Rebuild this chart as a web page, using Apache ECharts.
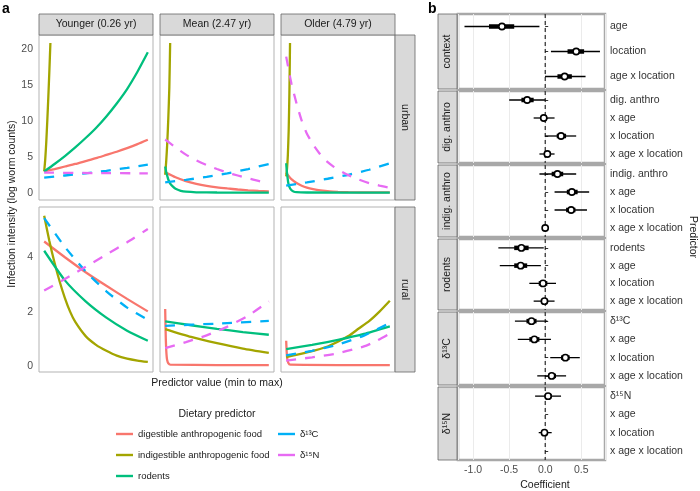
<!DOCTYPE html>
<html>
<head>
<meta charset="utf-8">
<title>Infection intensity and dietary predictors</title>
<script src="https://cdn.jsdelivr.net/npm/echarts@6/dist/echarts.min.js"></script>
<style>
  html, body { margin: 0; padding: 0; background: #fff; }
  #chart { width: 700px; height: 491px; }
</style>
</head>
<body>
<div id="chart"></div>
<script>
// ------------------------------
// Data
// ------------------------------
var predictors = ['digestible anthropogenic food', 'indigestible anthropogenic food', 'rodents', 'δ¹³C', 'δ¹⁵N'];
var ageGroups = ['Younger (0.26 yr)', 'Mean (2.47 yr)', 'Older (4.79 yr)'];
var locations = ['urban', 'rural'];
var urbanTicks = [0, 5, 10, 15, 20];
var ruralTicks = [0, 2, 4];
var coefTicks = [-1.0, -0.5, 0.0, 0.5];

// panel a: predicted curves [x (0 = min, 1 = max), log worm counts], order = predictors
var urbanYounger = [
    [[0, 2.96], [0.1, 3.3], [0.2, 3.65], [0.3, 4.0], [0.4, 4.4], [0.5, 4.8], [0.6, 5.25], [0.7, 5.7], [0.8, 6.2], [0.9, 6.75], [1, 7.36]],
    [[0, 2.96], [0.01, 4.6], [0.02, 7.0], [0.03, 10.0], [0.04, 13.3], [0.05, 16.9], [0.06, 20.8]],
    [[0, 2.96], [0.1, 4.0], [0.2, 5.1], [0.3, 6.3], [0.4, 7.6], [0.5, 9.0], [0.6, 10.6], [0.7, 12.4], [0.8, 14.4], [0.9, 16.8], [1, 19.5]],
    [[0, 2.1], [0.2, 2.4], [0.4, 2.7], [0.6, 3.05], [0.8, 3.45], [1, 3.9]],
    [[0, 2.8], [0.5, 2.74], [1, 2.7]]
];
var urbanMean = [
    [[0, 2.85], [0.1, 2.15], [0.2, 1.62], [0.3, 1.25], [0.4, 0.97], [0.5, 0.76], [0.6, 0.6], [0.7, 0.46], [0.8, 0.35], [0.9, 0.26], [1, 0.18]],
    [[0, 2.5], [0.01, 4.4], [0.02, 6.9], [0.03, 10.3], [0.04, 14.6], [0.048, 20.8]],
    [[0, 3.65], [0.01, 2.9], [0.02, 2.35], [0.03, 1.85], [0.05, 1.25], [0.075, 0.85], [0.1, 0.55], [0.15, 0.28], [0.2, 0.15], [0.3, 0.07], [0.5, 0.04], [1, 0.03]],
    [[0, 1.45], [0.2, 1.8], [0.4, 2.2], [0.6, 2.7], [0.8, 3.3], [1, 4.0]],
    [[0, 7.4], [0.1, 6.3], [0.2, 5.3], [0.3, 4.5], [0.4, 3.85], [0.5, 3.3], [0.6, 2.8], [0.7, 2.4], [0.8, 2.0], [0.9, 1.65], [1, 1.3]]
];
var urbanOlder = [
    [[0, 2.8], [0.025, 2.3], [0.05, 1.9], [0.1, 1.35], [0.15, 0.98], [0.2, 0.72], [0.26, 0.51], [0.33, 0.33], [0.42, 0.18], [0.5, 0.12], [0.6, 0.08], [0.8, 0.06], [1, 0.05]],
    [[0, 2.27], [0.008, 3.3], [0.016, 5.2], [0.024, 8.6], [0.031, 13.8], [0.037, 20.8]],
    [[0, 4.1], [0.005, 3.2], [0.01, 2.5], [0.02, 1.4], [0.03, 0.85], [0.045, 0.45], [0.07, 0.18], [0.1, 0.08], [0.2, 0.04], [1, 0.03]],
    [[0, 1.0], [0.2, 1.45], [0.4, 1.95], [0.6, 2.5], [0.8, 3.2], [1, 4.1]],
    [[0, 18.9], [0.05, 15.2], [0.1, 12.4], [0.15, 10.0], [0.2, 8.2], [0.26, 6.7], [0.32, 5.5], [0.38, 4.5], [0.45, 3.7], [0.51, 3.15], [0.6, 2.45], [0.7, 1.85], [0.8, 1.35], [0.9, 1.0], [1, 0.7]]
];
var ruralYounger = [
    [[0, 4.58], [0.2, 4.0], [0.4, 3.45], [0.6, 2.95], [0.8, 2.47], [1, 2.01]],
    [[0, 5.53], [0.05, 4.6], [0.1, 3.8], [0.15, 3.1], [0.2, 2.5], [0.25, 2.0], [0.3, 1.62], [0.4, 1.1], [0.5, 0.78], [0.6, 0.56], [0.7, 0.38], [0.8, 0.27], [0.9, 0.2], [1, 0.15]],
    [[0, 4.24], [0.2, 3.15], [0.4, 2.38], [0.6, 1.78], [0.8, 1.3], [1, 0.93]],
    [[0, 5.44], [0.2, 4.38], [0.4, 3.48], [0.6, 2.75], [0.8, 2.15], [1, 1.7]],
    [[0, 2.78], [0.2, 3.2], [0.4, 3.65], [0.6, 4.1], [0.8, 4.55], [1, 5.04]]
];
var ruralMean = [
    [[0, 2.1], [0.003, 1.5], [0.006, 1.0], [0.01, 0.6], [0.015, 0.33], [0.02, 0.2], [0.03, 0.1], [0.05, 0.05], [1, 0.03]],
    [[0, 1.36], [0.25, 1.07], [0.5, 0.84], [0.75, 0.64], [1, 0.48]],
    [[0, 1.64], [0.25, 1.5], [0.5, 1.37], [0.75, 1.25], [1, 1.15]],
    [[0, 1.48], [0.5, 1.56], [1, 1.66]],
    [[0, 0.66], [0.2, 0.88], [0.4, 1.13], [0.6, 1.45], [0.8, 1.85], [1, 2.38]]
];
var ruralOlder = [
    [[0, 0.93], [0.003, 0.65], [0.006, 0.45], [0.01, 0.28], [0.02, 0.12], [0.04, 0.05], [1, 0.03]],
    [[0, 0.33], [0.2, 0.5], [0.4, 0.72], [0.6, 1.1], [0.7, 1.38], [0.8, 1.65], [0.9, 2.0], [1, 2.4]],
    [[0, 0.62], [0.25, 0.78], [0.5, 0.96], [0.75, 1.18], [1, 1.46]],
    [[0, 0.39], [0.25, 0.56], [0.5, 0.79], [0.75, 1.12], [1, 1.58]],
    [[0, 0.2], [0.25, 0.32], [0.5, 0.47], [0.75, 0.72], [0.875, 0.93], [1, 1.19]]
];

// panel b: coefficient rows [estimate, lo95, hi95, lo50, hi50]
var facetNames = ['context', 'dig. anthro', 'indig. anthro', 'rodents', 'δ¹³C', 'δ¹⁵N'];
var contextLabels = ['age', 'location', 'age x location'];
var contextRows = [
    [-0.60, -1.12, -0.08, -0.78, -0.43],
    [0.43, 0.08, 0.76, 0.31, 0.54],
    [0.27, 0.00, 0.56, 0.17, 0.37]
];
var digLabels = ['dig. anthro', 'x age', 'x location', 'x age x location'];
var digRows = [
    [-0.25, -0.50, 0.00, -0.33, -0.16],
    [-0.02, -0.16, 0.13, -0.06, 0.02],
    [0.22, 0.00, 0.43, 0.16, 0.29],
    [0.03, -0.08, 0.13, -0.01, 0.07]
];
var indigLabels = ['indig. anthro', 'x age', 'x location', 'x age x location'];
var indigRows = [
    [0.17, -0.08, 0.43, 0.09, 0.25],
    [0.37, 0.13, 0.61, 0.30, 0.45],
    [0.36, 0.13, 0.58, 0.29, 0.42],
    [0.00, -0.01, 0.01, 0.00, 0.00]
];
var rodentLabels = ['rodents', 'x age', 'x location', 'x age x location'];
var rodentRows = [
    [-0.33, -0.65, -0.02, -0.43, -0.23],
    [-0.34, -0.63, -0.06, -0.43, -0.25],
    [-0.03, -0.22, 0.15, -0.09, 0.03],
    [-0.01, -0.16, 0.13, -0.06, 0.04]
];
var d13cLabels = ['δ¹³C', 'x age', 'x location', 'x age x location'];
var d13cRows = [
    [-0.19, -0.42, 0.03, -0.26, -0.12],
    [-0.15, -0.38, 0.08, -0.22, -0.08],
    [0.28, 0.07, 0.48, 0.22, 0.34],
    [0.09, -0.11, 0.29, 0.04, 0.15]
];
var d15nLabels = ['δ¹⁵N', 'x age', 'x location', 'x age x location'];
var d15nRows = [
    [0.04, -0.14, 0.22, 0.00, 0.09],
    null,
    [-0.01, -0.09, 0.09, -0.03, 0.02],
    null
];

// ------------------------------
// Layout / style
// ------------------------------
var FONT = '"Liberation Sans", Arial, Helvetica, sans-serif';
var colors = ['#F8766D', '#A3A500', '#00BF7D', '#00B0F6', '#E76BF3'];
var dashed = [false, false, false, true, true];

var colLeft = [39, 160, 281], panelW = 114;
var rowTop = [35, 207], panelH = 165;
var yRange = [[-1.0, 21.9], [-0.22, 5.85]];
var ySplit = [5, 3];
var yTicks = [urbanTicks, ruralTicks];
var panels = [[urbanYounger, urbanMean, urbanOlder], [ruralYounger, ruralMean, ruralOlder]];

var bLeft = 458, bWidth = 147;
var facetTop = [14, 91, 165, 239, 312, 387];
var facetH = [75, 72, 72, 71, 73, 73];
var facetLabels = [contextLabels, digLabels, indigLabels, rodentLabels, d13cLabels, d15nLabels];
var facetRows = [contextRows, digRows, indigRows, rodentRows, d13cRows, d15nRows];

function tickFormatter(list, digits) {
    return function (v) {
        for (var i = 0; i < list.length; i++) {
            if (Math.abs(list[i] - v) < 1e-9) return digits ? list[i].toFixed(digits) : String(list[i]);
        }
        return '';
    };
}

var grids = [], xAxes = [], yAxes = [], series = [], graphics = [];

function txt(text, x, y, opts) {
    opts = opts || {};
    graphics.push({
        type: 'text', x: x, y: y, rotation: opts.rotation || 0, silent: true, z: 10,
        style: {
            text: text, x: 0, y: 0,
            fill: opts.color || '#1a1a1a',
            font: (opts.weight || 'normal') + ' ' + (opts.size || 11) + 'px ' + FONT,
            textAlign: opts.align || 'center',
            textVerticalAlign: opts.valign || 'middle'
        }
    });
}
function strip(x, y, w, h) {
    graphics.push({
        type: 'rect', silent: true, z: 1,
        shape: { x: x, y: y, width: w, height: h },
        style: { fill: '#d9d9d9', stroke: '#666', lineWidth: 0.8 }
    });
}

// ------------------------------
// Panel a
// ------------------------------
for (var r = 0; r < 2; r++) {
    for (var c = 0; c < 3; c++) {
        var gi = grids.length;
        grids.push({
            left: colLeft[c], top: rowTop[r], width: panelW, height: panelH,
            show: true, borderColor: '#b3b3b3', borderWidth: 1, backgroundColor: '#fff'
        });
        xAxes.push({ gridIndex: gi, type: 'value', min: -0.05, max: 1.05, show: false });
        yAxes.push({
            gridIndex: gi, type: 'value', min: yRange[r][0], max: yRange[r][1], splitNumber: ySplit[r],
            axisLine: { show: false }, axisTick: { show: false }, splitLine: { show: false },
            axisLabel: { show: c === 0, color: '#4d4d4d', fontSize: 10.5, margin: 6, formatter: tickFormatter(yTicks[r]) }
        });
        panels[r][c].forEach(function (pts, k) {
            series.push({
                type: 'line', name: predictors[k], xAxisIndex: gi, yAxisIndex: gi,
                data: pts, symbol: 'none', showSymbol: false,
                smooth: 0.2, silent: true, z: 2 + k,
                lineStyle: { color: colors[k], width: 2.3, type: dashed[k] ? [10, 9] : 'solid' },
                itemStyle: { color: colors[k] }
            });
        });
    }
}

ageGroups.forEach(function (g, c) {
    strip(colLeft[c], 14, panelW, 21);
    txt(g, colLeft[c] + panelW / 2, 24.5, { size: 10.5 });
});
locations.forEach(function (loc, r) {
    strip(395, rowTop[r], 20, panelH);
    txt(loc, 405, rowTop[r] + panelH / 2, { size: 10.5, rotation: -Math.PI / 2 });
});

txt('a', 2, 2, { size: 14, weight: 'bold', align: 'left', valign: 'top', color: '#000' });
txt('Infection intensity (log worm counts)', 12, 204, { size: 10.5, rotation: Math.PI / 2 });
txt('Predictor value (min to max)', 217, 383, { size: 10.5 });
txt('Dietary predictor', 217, 414, { size: 10.5 });

// ------------------------------
// Panel b
// ------------------------------
function renderInterval(params, api) {
    var yi = api.value(0);
    var a95 = api.coord([api.value(1), yi]);
    var b95 = api.coord([api.value(2), yi]);
    var a50 = api.coord([api.value(3), yi]);
    var b50 = api.coord([api.value(4), yi]);
    var pt = api.coord([api.value(5), yi]);
    var children = [];
    if (params.dataIndex === 0) {
        var zero = api.coord([0, yi]);
        var cs = params.coordSys;
        children.push({
            type: 'line',
            shape: { x1: zero[0], y1: cs.y, x2: zero[0], y2: cs.y + cs.height },
            style: { stroke: '#000', lineWidth: 1, lineDash: [4, 3] }
        });
    }
    children.push(
        { type: 'line', shape: { x1: a95[0], y1: a95[1], x2: b95[0], y2: b95[1] }, style: { stroke: '#000', lineWidth: 1.3 } },
        { type: 'line', shape: { x1: a50[0], y1: a50[1], x2: b50[0], y2: b50[1] }, style: { stroke: '#000', lineWidth: 4.5 } },
        { type: 'circle', shape: { cx: pt[0], cy: pt[1], r: 3.1 }, style: { fill: '#fff', stroke: '#000', lineWidth: 1.6 } }
    );
    return { type: 'group', children: children };
}

facetNames.forEach(function (name, f) {
    var gi = grids.length;
    var last = f === facetNames.length - 1;
    grids.push({
        left: bLeft, top: facetTop[f], width: bWidth, height: facetH[f],
        show: true, borderColor: '#a8a8a8', borderWidth: 2.5, backgroundColor: '#fff'
    });
    xAxes.push({
        gridIndex: gi, type: 'value', min: -1.21, max: 0.83,
        axisLine: { show: false }, axisTick: { show: false },
        axisLabel: { show: last, color: '#4d4d4d', fontSize: 10.5, margin: 5, formatter: tickFormatter(coefTicks, 1) },
        splitLine: { show: true, lineStyle: { color: '#ebebeb', width: 1 } }
    });
    yAxes.push({
        gridIndex: gi, type: 'category', data: facetLabels[f], inverse: true, position: 'right',
        axisLine: { show: false },
        axisTick: { show: true, alignWithLabel: true, length: 3, lineStyle: { color: '#333' } },
        axisLabel: { color: '#333', fontSize: 10.5, margin: 5 },
        splitLine: { show: false }
    });
    var data = [];
    facetRows[f].forEach(function (row, i) {
        if (row) data.push([i, row[1], row[2], row[3], row[4], row[0]]);
    });
    series.push({
        type: 'custom', xAxisIndex: gi, yAxisIndex: gi, silent: true, z: 5,
        encode: { x: [1, 2, 3, 4, 5], y: 0 },
        renderItem: renderInterval, data: data
    });
    strip(438, facetTop[f], 19, facetH[f]);
    txt(name, 447.5, facetTop[f] + facetH[f] / 2, { size: 10.5, rotation: Math.PI / 2 });
});

txt('b', 428, 2, { size: 14, weight: 'bold', align: 'left', valign: 'top', color: '#000' });
txt('Predictor', 693, 237, { size: 10.5, rotation: -Math.PI / 2 });
txt('Coefficient', 545, 485, { size: 10.5 });

// ------------------------------
// Chart
// ------------------------------
var legendBase = {
    orient: 'vertical', top: 428, padding: 0, icon: 'rect',
    itemWidth: 17, itemHeight: 2.4, itemGap: 9, selectedMode: false,
    textStyle: { fontSize: 9.5, color: '#1a1a1a', fontFamily: FONT, lineHeight: 12 }
};
var chart = echarts.init(document.getElementById('chart'));
chart.setOption({
    animation: false,
    backgroundColor: '#fff',
    textStyle: { fontFamily: FONT },
    grid: grids,
    xAxis: xAxes,
    yAxis: yAxes,
    legend: [
        Object.assign({}, legendBase, { data: predictors.slice(0, 3), left: 116 }),
        Object.assign({}, legendBase, { data: predictors.slice(3), left: 278 })
    ],
    graphic: graphics,
    series: series
});
</script>
</body>
</html>
